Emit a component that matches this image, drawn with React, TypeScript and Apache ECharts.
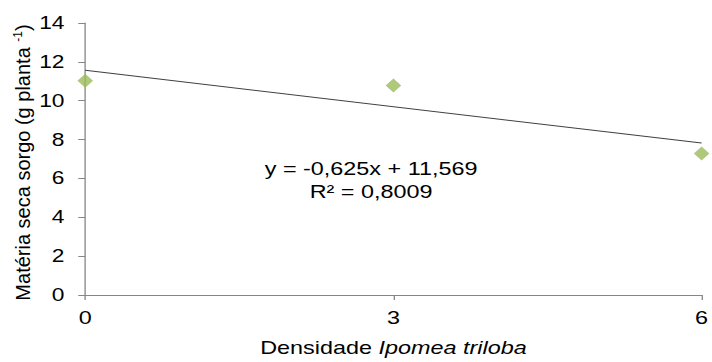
import React, { useEffect, useRef } from "react";
import * as echarts from "echarts";

const densities = [0, 3, 6];
const dryMass = [11.03, 10.78, 7.28];
const trendX = [0, 6];
const trendY = [11.569, 7.819];
const xTicks = [0, 3, 6];
const yTicks = [0, 2, 4, 6, 8, 10, 12, 14];
const xTitle = "Densidade {i|Ipomea triloba}";
const yTitle = "Matéria seca sorgo (g planta {s|-1})";
const equationLine1 = "y = -0,625x + 11,569";
const equationLine2 = "R² = 0,8009";

const FONT = "'Liberation Sans', Arial, sans-serif";
const PAGE_W = 712;
const PAGE_H = 362;
const CHART_W = 548;
const STRETCH = PAGE_W / CHART_W;

export default function App() {
  const ref = useRef<HTMLDivElement>(null);
  useEffect(() => {
    if (!ref.current) return;
    const chart = echarts.init(ref.current, undefined, { renderer: "svg" });
    chart.setOption({
      animation: false,
      backgroundColor: "#ffffff",
      textStyle: { fontFamily: FONT },
      grid: { left: 65.6, right: 3.9, top: 23, bottom: 62, containLabel: false },
      xAxis: {
        type: "value",
        min: xTicks[0],
        max: xTicks[xTicks.length - 1],
        interval: 3,
        name: xTitle,
        nameLocation: "middle",
        nameGap: 44,
        nameTextStyle: {
          fontFamily: FONT,
          fontSize: 18,
          color: "#000",
          rich: { i: { fontStyle: "italic", fontFamily: FONT, fontSize: 18, color: "#000" } },
        },
        axisLine: { show: true, lineStyle: { color: "#868686", width: 1 } },
        axisTick: { show: true, length: 5, lineStyle: { color: "#868686" } },
        axisLabel: { fontFamily: FONT, fontSize: 18, color: "#000", margin: 14 },
        splitLine: { show: false },
      },
      yAxis: {
        type: "value",
        min: yTicks[0],
        max: yTicks[yTicks.length - 1],
        interval: 2,
        axisLine: { show: true, lineStyle: { color: "#868686", width: 1 } },
        axisTick: { show: true, length: 5.4, lineStyle: { color: "#868686" } },
        axisLabel: { fontFamily: FONT, fontSize: 17.5, color: "#000", margin: 16 },
        splitLine: { show: false },
      },
      series: [
        {
          type: "line",
          data: trendX.map((x, i) => [x, trendY[i]]),
          symbol: "none",
          lineStyle: { color: "#404040", width: 1 },
          z: 1,
        },
        {
          type: "scatter",
          data: densities.map((x, i) => [x, dryMass[i]]),
          symbol: "diamond",
          symbolSize: [12, 14],
          itemStyle: { color: "#9BBB59" },
          z: 2,
        },
      ],
      graphic: [
        {
          type: "text",
          x: 17.7,
          y: 162.5,
          rotation: Math.PI / 2,
          scaleY: 1 / STRETCH,
          style: {
            text: yTitle,
            fontFamily: FONT,
            fontSize: 20,
            fill: "#000",
            align: "center",
            verticalAlign: "middle",
            rich: {
              s: { fontFamily: FONT, fontSize: 12, fill: "#000", verticalAlign: "top", padding: [0, 0, 10, 0] },
            },
          },
        },
        {
          type: "text",
          x: 285.6,
          y: 169,
          style: {
            text: equationLine1,
            fontFamily: FONT,
            fontSize: 18,
            fill: "#000",
            align: "center",
            verticalAlign: "middle",
          },
        },
        {
          type: "text",
          x: 285.6,
          y: 192,
          style: {
            text: equationLine2,
            fontFamily: FONT,
            fontSize: 18,
            fill: "#000",
            align: "center",
            verticalAlign: "middle",
          },
        },
      ],
    });
    return () => chart.dispose();
  }, []);
  return (
    <div
      style={{
        position: "fixed",
        left: 0,
        top: 0,
        width: PAGE_W,
        height: PAGE_H,
        overflow: "hidden",
        background: "#fff",
      }}
    >
      <div
        ref={ref}
        style={{
          width: CHART_W,
          height: PAGE_H,
          transform: `scaleX(${STRETCH})`,
          transformOrigin: "0 0",
        }}
      />
    </div>
  );
}
